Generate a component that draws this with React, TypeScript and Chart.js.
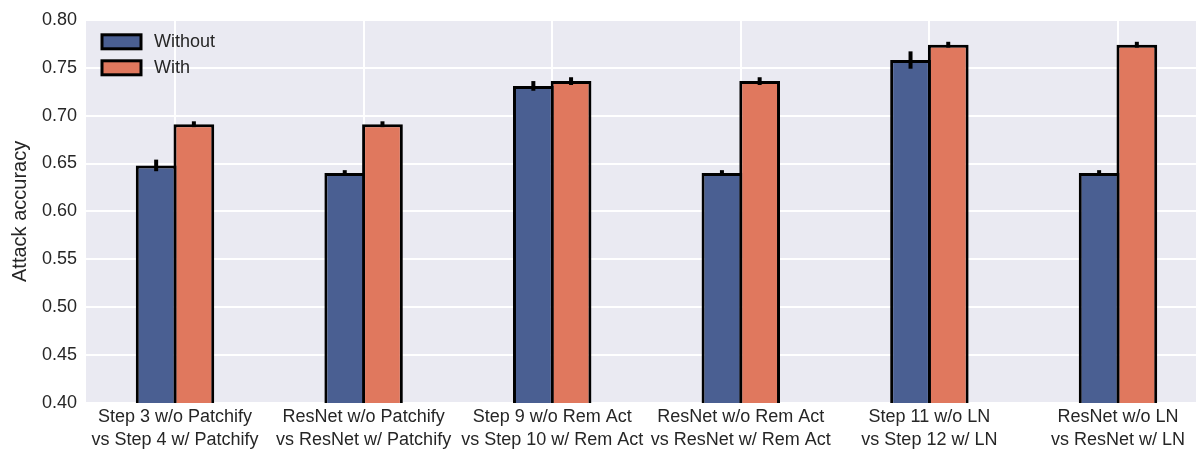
import React, { useEffect, useRef } from "react";
import { Chart, registerables } from "chart.js";

Chart.register(...registerables);

const categories: string[][] = [
  ["Step 3 w/o Patchify", "vs Step 4 w/ Patchify"],
  ["ResNet w/o Patchify", "vs ResNet w/ Patchify"],
  ["Step 9 w/o Rem Act", "vs Step 10 w/ Rem Act"],
  ["ResNet w/o Rem Act", "vs ResNet w/ Rem Act"],
  ["Step 11 w/o LN", "vs Step 12 w/ LN"],
  ["ResNet w/o LN", "vs ResNet w/ LN"],
];
const withoutValues = [0.648, 0.64, 0.731, 0.64, 0.758, 0.64];
const withValues = [0.691, 0.691, 0.736, 0.736, 0.774, 0.774];
const withoutErr = [0.005, 0.002, 0.004, 0.002, 0.008, 0.002];
const withErr = [0.002, 0.002, 0.003, 0.003, 0.002, 0.002];
const yTicks = [0.4, 0.45, 0.5, 0.55, 0.6, 0.65, 0.7, 0.75, 0.8];
const seriesNames = ["Without", "With"];

const BLUE = "#4A5F92";
const ORANGE = "#E0785E";
const TEXT = "#262626";
const FONT = "'Liberation Sans', Arial, sans-serif";

export default function App() {
  const ref = useRef<HTMLCanvasElement | null>(null);
  useEffect(() => {
    const canvas = ref.current;
    if (!canvas) return;
    const errs = [withoutErr, withErr];
    const vals = [withoutValues, withValues];

    const bgPlugin = {
      id: "bg",
      beforeDraw(chart: any) {
        const { ctx, chartArea } = chart;
        ctx.save();
        ctx.fillStyle = "#EAEAF2";
        ctx.fillRect(chartArea.left, chartArea.top, chartArea.right - chartArea.left, chartArea.bottom - chartArea.top);
        ctx.restore();
      },
    };

    const errPlugin = {
      id: "errbars",
      afterDatasetsDraw(chart: any) {
        const { ctx } = chart;
        const ys = chart.scales.y;
        ctx.save();
        ctx.strokeStyle = "#000";
        chart.data.datasets.forEach((_: any, di: number) => {
          const meta = chart.getDatasetMeta(di);
          meta.data.forEach((el: any, i: number) => {
            const v = vals[di][i];
            const e = errs[di][i];
            const top = ys.getPixelForValue(v + e);
            const bot = ys.getPixelForValue(v - e);
            ctx.lineWidth = 4;
            ctx.beginPath();
            ctx.moveTo(el.x, top - 1);
            ctx.lineTo(el.x, bot + 1);
            ctx.stroke();
          });
        });
        ctx.restore();
      },
    };

    const legendPlugin = {
      id: "customLegend",
      afterDraw(chart: any) {
        const { ctx, chartArea } = chart;
        const colors = [BLUE, ORANGE];
        ctx.save();
        seriesNames.forEach((name, i) => {
          const x = chartArea.left + 16;
          const y = chartArea.top + 15 + i * 26;
          ctx.fillStyle = colors[i];
          ctx.fillRect(x, y, 39, 14);
          ctx.lineWidth = 3;
          ctx.strokeStyle = "#000";
          ctx.strokeRect(x, y, 39, 14);
          ctx.fillStyle = TEXT;
          ctx.font = `18px ${FONT}`;
          ctx.textBaseline = "middle";
          ctx.textAlign = "left";
          ctx.fillText(name, x + 52, y + 7.5);
        });
        ctx.restore();
      },
    };

    const chart = new Chart(canvas, {
      type: "bar",
      data: {
        datasets: [
          {
            label: seriesNames[0],
            data: withoutValues.map((v, i) => ({ x: i, y: v })),
            backgroundColor: BLUE,
            borderColor: "#000",
            borderWidth: 3,
            categoryPercentage: 0.4,
            barPercentage: 1.08,
          },
          {
            label: seriesNames[1],
            data: withValues.map((v, i) => ({ x: i, y: v })),
            backgroundColor: ORANGE,
            borderColor: "#000",
            borderWidth: 3,
            categoryPercentage: 0.4,
            barPercentage: 1.08,
          },
        ],
      },
      options: {
        animation: false,
        responsive: false,
        devicePixelRatio: 1,
        layout: { padding: { top: 17, right: 13, left: 0, bottom: 0 } },
        plugins: { legend: { display: false }, tooltip: { enabled: false } },
        scales: {
          x: {
            type: "linear",
            min: -0.472,
            max: 5.472,
            offset: false,
            afterBuildTicks: (s: any) => {
              s.ticks = categories.map((_, i) => ({ value: i }));
            },
            afterFit: (s: any) => {
              s.height = 47;
            },
            ticks: {
              autoSkip: false,
              maxRotation: 0,
              padding: 3,
              color: TEXT,
              font: { family: FONT, size: 18, lineHeight: "23px" } as any,
              callback: (v: any) => categories[Math.round(Number(v))] || "",
            },
            grid: { color: "#FFFFFF", lineWidth: 2, drawTicks: false, offset: false },
            border: { display: false },
          },
          y: {
            min: 0.4,
            max: 0.8,
            afterBuildTicks: (s: any) => {
              s.ticks = yTicks.map((v) => ({ value: v }));
            },
            afterFit: (s: any) => {
              s.width = 86;
            },
            ticks: {
              padding: 9,
              color: TEXT,
              font: { family: FONT, size: 18 },
              callback: (v: any) => Number(v).toFixed(2),
            },
            grid: { color: "#FFFFFF", lineWidth: 2, drawTicks: false },
            border: { display: false },
            title: {
              display: true,
              text: "Attack accuracy",
              color: TEXT,
              font: { family: FONT, size: 20 },
              padding: { top: 8, bottom: 0 },
            },
          },
        },
      },
      plugins: [bgPlugin, errPlugin, legendPlugin],
    } as any);
    return () => chart.destroy();
  }, []);

  return (
    <div style={{ position: "fixed", left: 0, top: 0, width: 1196, height: 450, overflow: "hidden", background: "#fff" }}>
      <canvas ref={ref} width={1220} height={450} style={{ width: 1220, height: 450, display: "block" }} />
    </div>
  );
}
